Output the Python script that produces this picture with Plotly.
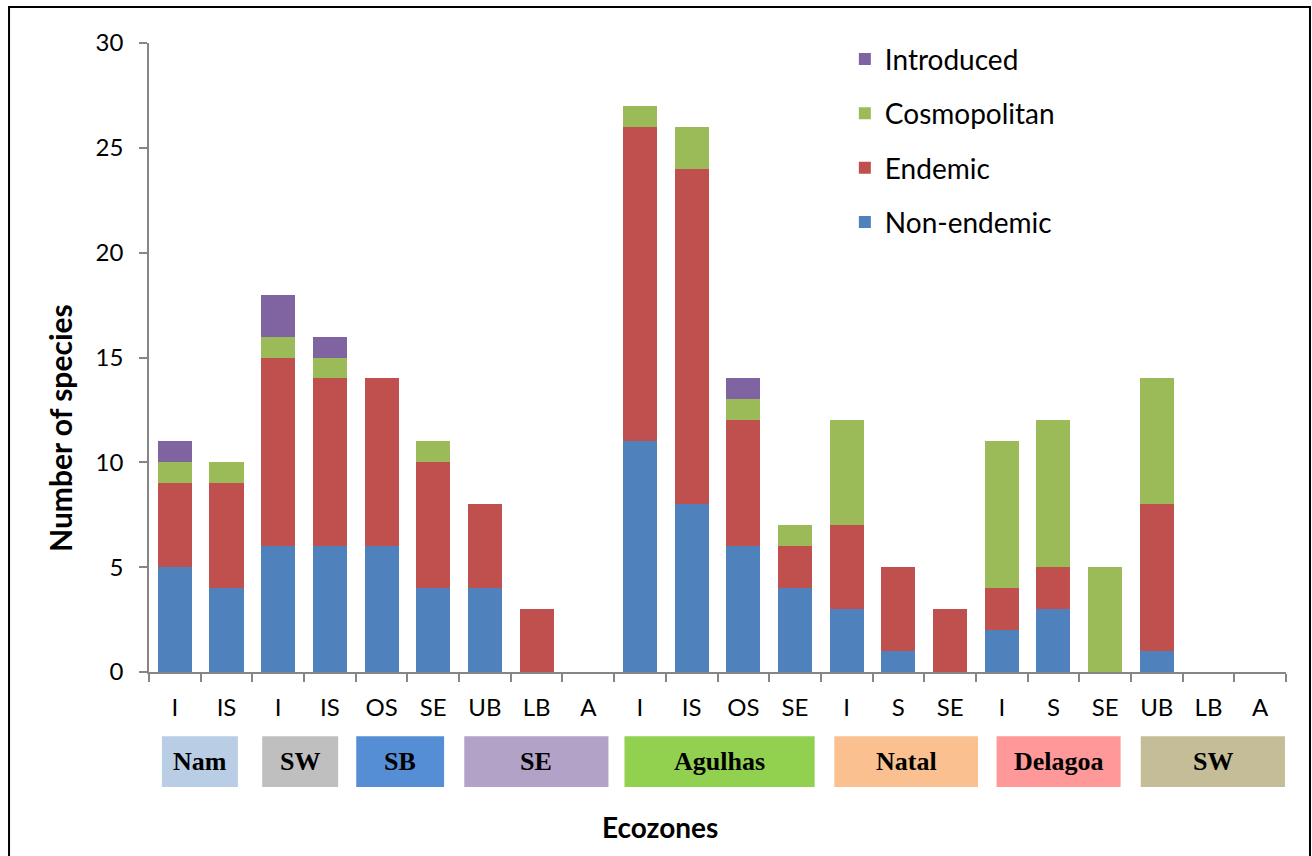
import plotly.graph_objects as go

categories = ["I", "IS", "I", "IS", "OS", "SE", "UB", "LB", "A",
              "I", "IS", "OS", "SE", "I", "S", "SE", "I", "S", "SE", "UB", "LB", "A"]
non_endemic = [5, 4, 6, 6, 6, 4, 4, 0, 0, 11, 8, 6, 4, 3, 1, 0, 2, 3, 0, 1, 0, 0]
endemic = [4, 5, 9, 8, 8, 6, 4, 3, 0, 15, 16, 6, 2, 4, 4, 3, 2, 2, 0, 7, 0, 0]
cosmopolitan = [1, 1, 1, 1, 0, 1, 0, 0, 0, 1, 2, 1, 1, 5, 0, 0, 7, 7, 5, 6, 0, 0]
introduced = [1, 0, 2, 1, 0, 0, 0, 0, 0, 0, 0, 1, 0, 0, 0, 0, 0, 0, 0, 0, 0, 0]

# ecozone groups: label, box start, box end (in category-index units), colour
zones = [("Nam", -0.25, 1.22, "#b9cde5"), ("SW", 1.69, 3.16, "#bfbfbf"),
         ("SB", 3.51, 5.21, "#558ed5"), ("SE", 5.60, 8.39, "#b3a2c7"),
         ("Agulhas", 8.70, 12.38, "#92d050"), ("Natal", 12.76, 15.54, "#fac090"),
         ("Delagoa", 15.90, 18.30, "#ff9999"), ("SW", 18.69, 21.48, "#c4bd97")]

x = list(range(len(categories)))
series = [("Non-endemic", non_endemic, "#4f81bd", 4), ("Endemic", endemic, "#c0504d", 3),
          ("Cosmopolitan", cosmopolitan, "#9bbb59", 2), ("Introduced", introduced, "#8064a2", 1)]

fig = go.Figure()
for name, vals, col, rank in series:
    fig.add_trace(go.Bar(x=x, y=vals, name=name, marker=dict(color=col, line=dict(width=0)),
                         legendgroup=name, legendrank=rank))

axis_col = "#868686"
font_main = "Lato, 'Open Sans', sans-serif"
fig.update_layout(
    width=1312, height=856, barmode="stack", bargap=0.34,
    plot_bgcolor="white", paper_bgcolor="white",
    margin=dict(l=149, r=26, t=43, b=184),
    font=dict(family=font_main, size=24, color="black"),
    legend=dict(x=0.612, y=1.014, xanchor="left", yanchor="top", traceorder="grouped",
                tracegroupgap=15, font=dict(size=28), bgcolor="rgba(0,0,0,0)"),
    xaxis=dict(range=[-0.5, 21.5], tickvals=x, ticktext=categories, ticks="",
               showline=True, linecolor=axis_col, linewidth=1.5, showgrid=False, zeroline=False,
               ticklabelstandoff=13,
               minor=dict(tickmode="linear", tick0=-0.5, dtick=1, ticks="outside", ticklen=8,
                          tickcolor=axis_col, tickwidth=1.5, showgrid=False)),
    yaxis=dict(range=[0, 30], dtick=5, ticks="outside", ticklen=8, tickcolor=axis_col, tickwidth=1.5,
               showline=True, linecolor=axis_col, linewidth=1.5, showgrid=False, zeroline=False,
               ticklabelstandoff=11),
)

# axis titles
fig.add_annotation(xref="paper", yref="paper", x=0.449, y=-0.2464, text="<b>Ecozones</b>",
                   showarrow=False, xanchor="center", yanchor="middle", font=dict(size=28))
fig.add_annotation(xref="paper", yref="paper", x=-0.0783, y=0.388, text="<b>Number of species</b>",
                   textangle=-90, showarrow=False, xanchor="center", yanchor="middle",
                   font=dict(size=30))

# ecozone boxes below axis
for label, a, b, col in zones:
    fig.add_shape(type="rect", xref="x", yref="paper", x0=a, x1=b,
                  y0=-0.183, y1=-0.102, fillcolor=col, line=dict(width=0), layer="above")
    fig.add_annotation(xref="x", yref="paper", x=(a + b) / 2, y=-0.1425, text="<b>%s</b>" % label,
                       showarrow=False, xanchor="center", yanchor="middle",
                       font=dict(family="'Liberation Serif', 'Times New Roman', serif",
                                 size=26, color="black"))

# outer frame
fig.add_shape(type="rect", xref="paper", yref="paper", x0=-0.1231, x1=1.0211, y0=-0.32, y1=1.0572,
              line=dict(color="black", width=2), fillcolor="rgba(0,0,0,0)")

fig.write_html("out.html", config={"displayModeBar": False},
               post_script="document.body.style.margin='0';")
